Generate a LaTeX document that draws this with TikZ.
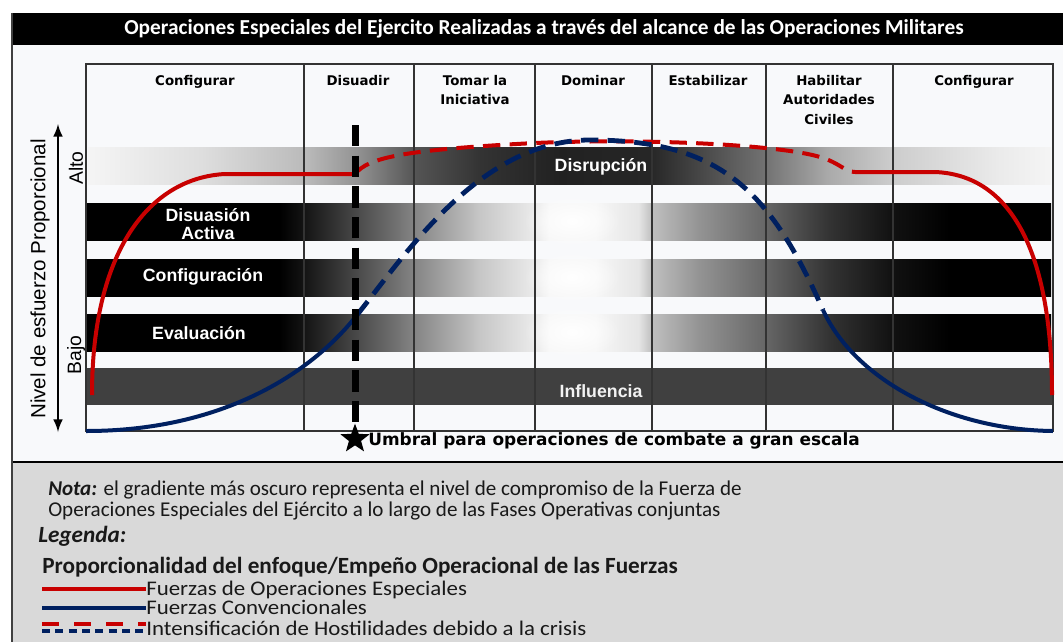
\documentclass[tikz,border=0pt]{standalone}
\usepackage{fontspec}
\setmainfont{Carlito}
\newfontfamily\legfont{Carlito}[FakeStretch=1.1]
\newfontfamily\phasefont{DejaVu Sans}
\newfontfamily\bandfont{Liberation Sans}
\usepackage{xcolor}
\usetikzlibrary{shapes.geometric}
\usetikzlibrary{fadings}
\usetikzlibrary{positioning}

\definecolor{sofred}{RGB}{200,0,0}
\definecolor{cfblue}{RGB}{0,32,96}
\definecolor{paper}{RGB}{248,249,251}
\definecolor{notegray}{RGB}{217,217,217}
\definecolor{inflgray}{RGB}{64,64,64}

\pgfdeclarehorizontalshading{disrshade}{100bp}{color(0bp)=(black!4); color(25bp)=(black!4);
  color(30.9bp)=(black!13); color(36.3bp)=(black!27); color(38.9bp)=(black!42);
  color(42bp)=(black!67); color(45.4bp)=(black!80); color(49.5bp)=(black!87);
  color(54.2bp)=(black!85); color(60.2bp)=(black!55); color(63.5bp)=(black!33);
  color(66.7bp)=(black!20); color(72.3bp)=(black!8); color(75bp)=(black!4); color(100bp)=(black!4)}
\pgfdeclarehorizontalshading{effshade}{100bp}{color(0bp)=(black); color(35bp)=(black);
  color(36.3bp)=(black!92); color(38.9bp)=(black!72); color(42bp)=(black!48);
  color(45.4bp)=(black!22); color(48.2bp)=(black!8); color(49bp)=(black!3); color(51.3bp)=(black!3);
  color(53.6bp)=(black!10); color(54.3bp)=(black!25); color(56.7bp)=(black!42);
  color(60.2bp)=(black!60); color(63.5bp)=(black!80); color(66.7bp)=(black!93);
  color(69.7bp)=(black); color(100bp)=(black)}
\tikzfading[name=blobfade,inner color=transparent!0,outer color=transparent!100]

\begin{document}
\begin{tikzpicture}[x=0.75pt,y=-0.75pt,
  sof/.style={draw=sofred,line width=3pt},
  cf/.style={draw=cfblue,line width=3pt},
  crisis/.style={dash pattern=on 13pt off 7pt},
  colline/.style={draw=black!80,line width=1.1pt},
  phase/.style={font=\phasefont\bfseries\fontsize{10}{14.6}\selectfont,align=center,anchor=north,inner sep=0pt},
  bandlbl/.style={font=\bandfont\bfseries\fontsize{13.3}{13.5}\selectfont,text=white,align=center,inner sep=0pt},
  note/.style={font=\fontsize{15.8}{18}\selectfont,anchor=west,inner sep=0pt,text=black!90},
  legitem/.style={font=\legfont\fontsize{15.6}{18}\selectfont,anchor=base west,inner sep=0pt,text=black!90}]
  \useasboundingbox (0,0) rectangle (1063,642);
  \fill[white] (0,0) rectangle (1063,642);
  \fill[paper] (12,45) rectangle (1063,462);
  \fill[notegray] (12,462) rectangle (1063,642);
  \fill[black] (12,13) rectangle (1063,45);
  \draw[line width=1.2pt] (12,462) -- (1063,462);
  \draw[line width=1pt,black!75] (12,13) -- (12,642);
  \node (ttl) at (544,29) [text=white,font=\bfseries\fontsize{16}{18}\selectfont]
    {Operaciones Especiales del Ejercito Realizadas a través del alcance de las Operaciones Militares};

  \shade[shading=disrshade] (88,147) rectangle (1051,184);
  \foreach \by in {203,259,314}
    \shade[shading=effshade] (87,\by) rectangle (1051,\by+37);
  \foreach \by in {221,277,332}
    \fill[white,path fading=blobfade] (572,\by) ellipse (48 and 26);
  \fill[inflgray] (87,368) rectangle (1052,405);

  \foreach \cx in {304,414,535,652,766,893}
    \draw[colline] (\cx,64) -- (\cx,431);
  \draw[colline] (86,64) rectangle (1053,431);

  \node (cfga) [phase] at (195,75) {Configurar};
  \node (dsd) [phase] at (358,75) {Disuadir};
  \node (tmr) [phase] at (475,75) {Tomar la\\Iniciativa};
  \node (dmn) [phase] at (593,75) {Dominar};
  \node (est) [phase] at (708,75) {Estabilizar};
  \node (hab) [phase] at (829,75) {Habilitar\\Autoridades\\Civiles};
  \node (cfgb) [phase] at (974,75) {Configurar};

  \node (disr) [bandlbl] at (601,167) {Disrupción};
  \node (dact) [bandlbl] at (208,224) {Disuasión\\Activa};
  \node (conf) [bandlbl] at (203,277) {Configuración};
  \node (eval) [bandlbl] at (199,333) {Evaluación};
  \node (infl) [bandlbl,text=black!5] at (601,391) {Influencia};

  \draw[sof] (92,395) .. controls (92,250) and (150,178) .. (225,174) -- (355,174);
  \draw[sof,crisis] (355,174) .. controls (368,158) and (400,150) .. (535,143)
    .. controls (650,138) and (780,145) .. (820,157) .. controls (840,163) and (845,172) .. (855,172);
  \draw[sof] (855,172) -- (935,172) .. controls (1010,175) and (1052,250) .. (1052,395);
  \draw[cf] (86,431) .. controls (220,431) and (310,375) .. (357,315);
  \draw[cf,crisis,line width=3.6pt] (357,315) .. controls (405,255) and (480,140) .. (590,140)
    .. controls (720,140) and (770,190) .. (823,310);
  \draw[cf] (823,310) .. controls (855,380) and (950,430) .. (1053,431);

  \coordinate (thtop) at (355,125);
  \node (thr) [star,star points=5,star point ratio=2.4,fill=black,minimum size=23pt,inner sep=0pt] at (355,439) {};
  \draw[line width=5.25pt,dash pattern=on 16pt off 7pt] (thtop) -- (thr.north);
  \node (umb) [right=3pt of thr,font=\phasefont\bfseries\fontsize{12.7}{14}\selectfont,inner sep=0pt,yshift=-1.5pt]
    {Umbral para operaciones de combate a gran escala};

  \coordinate (ytop) at (58,124);
  \coordinate (ybot) at (58,432);
  \draw[<->,>=latex,line width=2.2pt] (ybot) -- (ytop);
  \node (lvl) at (40,279) [rotate=90,font=\bandfont\fontsize{15.4}{17}\selectfont] {Nivel de esfuerzo Proporcional};
  \node (alto) at (76,168) [rotate=90,font=\bandfont\fontsize{14.5}{16}\selectfont] {Alto};
  \node (bajo) at (76,355) [rotate=90,font=\bandfont\fontsize{14.5}{16}\selectfont] {Bajo};

  \node (nota) [note] at (48,490) {\textbf{\textit{Nota:}} el gradiente más oscuro representa el nivel de compromiso de la Fuerza de};
  \node (notb) [note] at (48,511) {Operaciones Especiales del Ejército a lo largo de las Fases Operativas conjuntas};
  \node (leg) [note,font=\fontsize{17.4}{20}\selectfont] at (38,536) {\textbf{\textit{Legenda:}}};
  \node (prop) [note,font=\bfseries\fontsize{17.4}{20}\selectfont] at (42,567) {Proporcionalidad del enfoque/Empeño Operacional de las Fuerzas};
  \node (lsof) [legitem] at (146,595) {Fuerzas de Operaciones Especiales};
  \node (lcf) [legitem] at (146,614.5) {Fuerzas Convencionales};
  \node (lcr) [legitem] at (146,635) {Intensificación de Hostilidades debido a la crisis};
  \coordinate (lsofa) at (42,589);
  \coordinate (lcfa) at (42,608);
  \coordinate (lcra) at (42,624);
  \coordinate (lcrb) at (42,631);
  \draw[sof,line width=2.4pt] (lsofa) -- (lsofa -| lsof.west);
  \draw[cf,line width=2.4pt] (lcfa) -- (lcfa -| lcf.west);
  \draw[sof,line width=2.4pt,dash pattern=on 13pt off 11pt] (lcra) -- (lcra -| lcr.west);
  \draw[cf,line width=2.4pt,dash pattern=on 6pt off 4pt] (lcrb) -- (lcrb -| lcr.west);
\end{tikzpicture}
\end{document}
